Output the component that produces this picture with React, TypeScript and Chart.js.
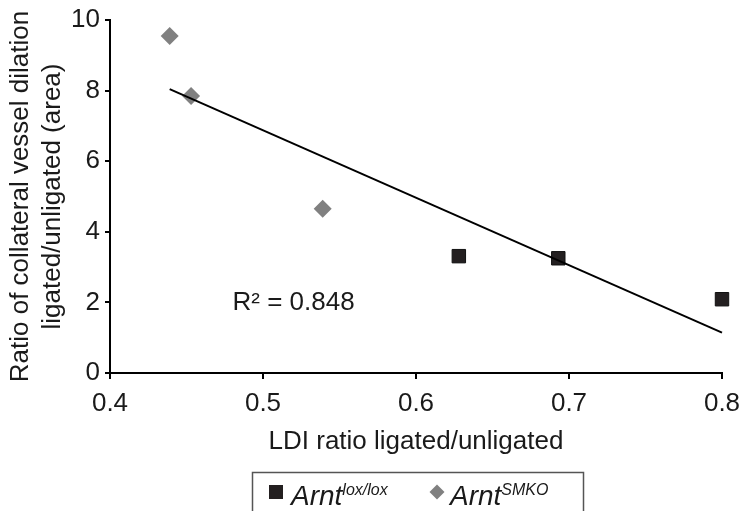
import React, { useEffect, useRef } from "react";
import { Chart, registerables } from "chart.js";

Chart.register(...registerables);

const FONT = "'Liberation Sans', Arial, Helvetica, sans-serif";

// Data
const loxX = [0.628, 0.693, 0.8];
const loxY = [3.31, 3.25, 2.09];
const smkoX = [0.439, 0.453, 0.539];
const smkoY = [9.55, 7.85, 4.65];

const xTicks = [0.4, 0.5, 0.6, 0.7, 0.8];
const yTicks = [0, 2, 4, 6, 8, 10];

const xTitle = "LDI ratio ligated/unligated";
const yTitleLines = ["Ratio of collateral vessel dilation", "ligated/unligated (area)"];
const r2Label = "R\u00B2 = 0.848";
const r2Pos = { x: 0.52, y: 2.07 };
const legendItems = [
  { base: "Arnt", sup: "lox/lox", style: "rect", color: "#231f20" },
  { base: "Arnt", sup: "SMKO", style: "rectRot", color: "#808080" },
];

// Linear least-squares trendline over all points (Excel-style)
function trend() {
  const xs = [...loxX, ...smkoX];
  const ys = [...loxY, ...smkoY];
  const n = xs.length;
  const mx = xs.reduce((a, b) => a + b, 0) / n;
  const my = ys.reduce((a, b) => a + b, 0) / n;
  let sxy = 0, sxx = 0;
  for (let i = 0; i < n; i++) {
    sxy += (xs[i] - mx) * (ys[i] - my);
    sxx += (xs[i] - mx) * (xs[i] - mx);
  }
  const m = sxy / sxx;
  const b = my - m * mx;
  const x0 = Math.min(...xs);
  const x1 = Math.max(...xs);
  return [
    { x: x0, y: m * x0 + b },
    { x: x1, y: m * x1 + b },
  ];
}

const overlay = {
  id: "overlay",
  afterDraw(chart: any) {
    const ctx = chart.ctx;
    const { x, y } = chart.scales;
    const area = chart.chartArea;
    ctx.save();
    // Y-axis title (two lines, rotated)
    ctx.fillStyle = "#1a1a1a";
    ctx.font = `26px ${FONT}`;
    ctx.textAlign = "center";
    ctx.textBaseline = "middle";
    const centers = [21, 53];
    const cy0 = (area.top + area.bottom) / 2;
    yTitleLines.forEach((t, i) => {
      ctx.save();
      ctx.translate(centers[i], cy0);
      ctx.rotate(-Math.PI / 2);
      ctx.fillText(t, 0, 0);
      ctx.restore();
    });
    // R² label
    ctx.textBaseline = "alphabetic";
    ctx.fillText(r2Label, x.getPixelForValue(r2Pos.x), y.getPixelForValue(r2Pos.y) + 10);

    // Legend box
    ctx.strokeStyle = "#555555";
    ctx.lineWidth = 1.5;
    ctx.strokeRect(252.5, 472.5, 331, 60);
    const itemX = [276, 437];
    const textGap = [15, 13];
    legendItems.forEach((it, i) => {
      const cx = itemX[i];
      const cy = 492;
      ctx.fillStyle = it.color;
      ctx.beginPath();
      if (it.style === "rect") {
        ctx.rect(cx - 7, cy - 7, 14, 14);
      } else {
        ctx.moveTo(cx - 7.5, cy);
        ctx.lineTo(cx, cy - 7.5);
        ctx.lineTo(cx + 7.5, cy);
        ctx.lineTo(cx, cy + 7.5);
        ctx.closePath();
      }
      ctx.fill();
      ctx.fillStyle = "#1a1a1a";
      ctx.textAlign = "left";
      ctx.textBaseline = "alphabetic";
      ctx.font = `italic 28px ${FONT}`;
      const tx = cx + textGap[i];
      ctx.fillText(it.base, tx, 505);
      const w = ctx.measureText(it.base).width;
      ctx.font = `italic 16px ${FONT}`;
      ctx.fillText(it.sup, tx + w, 495);
    });
    ctx.restore();
  },
};

export default function App() {
  const ref = useRef<HTMLCanvasElement | null>(null);
  useEffect(() => {
    if (!ref.current) return;
    const chart = new Chart(ref.current, {
      type: "scatter",
      data: {
        datasets: [
          {
            label: "trend",
            type: "line",
            data: trend(),
            borderColor: "#000000",
            borderWidth: 2,
            pointRadius: 0,
            fill: false,
            clip: false,
            order: 0,
          } as any,
          {
            label: "Arnt lox/lox",
            data: loxX.map((v, i) => ({ x: v, y: loxY[i] })),
            pointStyle: "rect",
            pointRadius: 9.5,
            backgroundColor: "#231f20",
            borderColor: "#111111",
            borderWidth: 1,
            clip: false,
            order: 1,
          } as any,
          {
            label: "Arnt SMKO",
            data: smkoX.map((v, i) => ({ x: v, y: smkoY[i] })),
            pointStyle: "rectRot",
            pointRadius: 9,
            backgroundColor: "#808080",
            borderColor: "#808080",
            borderWidth: 0,
            clip: false,
            order: 2,
          } as any,
        ],
      },
      options: {
        responsive: false,
        animation: false,
        devicePixelRatio: 1,
        layout: { padding: { top: 20, right: 25, left: 0, bottom: 0 } },
        plugins: {
          legend: { display: false },
          tooltip: { enabled: false },
        },
        scales: {
          x: {
            type: "linear",
            min: 0.4,
            max: 0.8,
            afterBuildTicks: (s: any) => {
              s.ticks = xTicks.map((v) => ({ value: v }));
            },
            afterFit: (s: any) => {
              s.height = 138;
              s.paddingLeft = 0;
              s.paddingRight = 0;
            },
            grid: {
              drawOnChartArea: false,
              drawTicks: true,
              tickLength: 6,
              color: "#000000",
              lineWidth: 2,
            },
            border: { display: true, color: "#000000", width: 2 },
            ticks: {
              padding: 9,
              color: "#1a1a1a",
              font: { family: FONT, size: 26, lineHeight: 1.2 },
              callback: (v: any) => Number(v).toFixed(1),
              maxRotation: 0,
            },
            title: {
              display: true,
              text: xTitle,
              color: "#1a1a1a",
              font: { family: FONT, size: 26, lineHeight: 1.2 },
              padding: { top: 0, bottom: 54 },
            },
          },
          y: {
            type: "linear",
            min: 0,
            max: 10,
            afterBuildTicks: (s: any) => {
              s.ticks = yTicks.map((v) => ({ value: v }));
            },
            afterFit: (s: any) => {
              s.width = 110;
              s.paddingTop = 0;
              s.paddingBottom = 0;
            },
            grid: {
              drawOnChartArea: false,
              drawTicks: true,
              tickLength: 5,
              color: "#000000",
              lineWidth: 2,
            },
            border: { display: true, color: "#000000", width: 2 },
            ticks: {
              padding: 5,
              color: "#1a1a1a",
              font: { family: FONT, size: 26, lineHeight: 1.2 },
              callback: (v: any) => String(v),
            },
          },
        },
      },
      plugins: [overlay],
    });
    return () => chart.destroy();
  }, []);
  return (
    <div style={{ position: "absolute", left: 0, top: 0, width: 747, height: 511, background: "#ffffff" }}>
      <canvas ref={ref} width={747} height={511} style={{ display: "block" }} />
    </div>
  );
}
